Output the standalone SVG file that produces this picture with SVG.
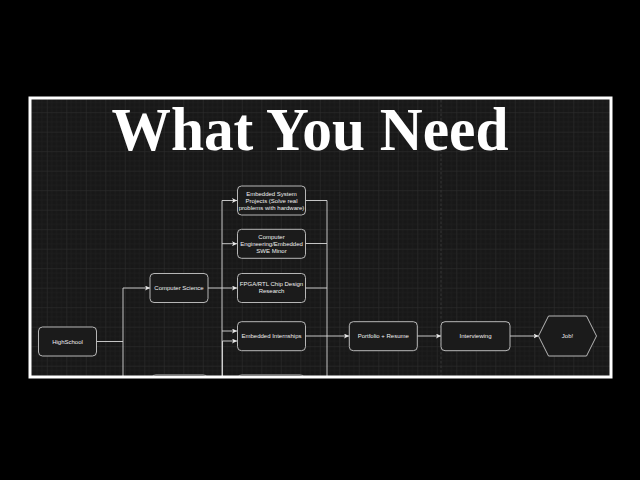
<svg xmlns="http://www.w3.org/2000/svg" width="640" height="480" viewBox="0 0 640 480">
<style>
.node rect,.node polygon{fill:#1b1b1b;stroke:#c8c8c8;stroke-width:0.9}
.node text{font-family:"Liberation Sans",Arial,sans-serif;font-size:6px;fill:#f0f0f0;text-anchor:middle}
.edge{fill:none;stroke:#d8d8d8;stroke-width:0.9}
.title{font-family:"Liberation Serif","Times New Roman",serif;font-weight:bold;font-size:62px;fill:#ffffff}
</style>
<defs>
<pattern id="grid" x="7.8" y="14.7" width="19.5" height="19.5" patternUnits="userSpaceOnUse">
<path d="M4.875 0V19.5M9.75 0V19.5M14.625 0V19.5M0 4.875H19.5M0 9.75H19.5M0 14.625H19.5" stroke="#212121" stroke-width="0.6" fill="none"/>
<path d="M0.3 0V19.5M0 0.3H19.5" stroke="#2c2c2c" stroke-width="0.8" fill="none"/>
</pattern>
<marker id="arr" viewBox="0 0 10 10" refX="10" refY="5" markerWidth="5" markerHeight="5" markerUnits="userSpaceOnUse" orient="auto">
<path d="M0 0L10 5L0 10L2.5 5Z" fill="#e8e8e8"/>
</marker>
<clipPath id="inner"><rect x="31.5" y="99.5" width="578" height="276.5"/></clipPath>
</defs>
<rect x="0" y="0" width="640" height="480" fill="#000000"/>
<rect x="30" y="98" width="581" height="279" fill="#181818"/>
<rect x="30" y="98" width="581" height="279" fill="url(#grid)"/>
<line x1="441" y1="100" x2="441" y2="376" stroke="#3c3c3c" stroke-width="0.8" stroke-dasharray="2.5,2"/>
<text class="title" x="111.5" y="149.5" textLength="397" lengthAdjust="spacingAndGlyphs">What You Need</text>
<g id="connectors" clip-path="url(#inner)">
<path class="edge" d="M96 341.5H123"/>
<path class="edge" d="M123 380V288H150" marker-end="url(#arr)"/>
<path class="edge" d="M208 288H237" marker-end="url(#arr)"/>
<path class="edge" d="M222 380V200.5H237" marker-end="url(#arr)"/>
<path class="edge" d="M222 243.7H237" marker-end="url(#arr)"/>
<path class="edge" d="M222 331H237" marker-end="url(#arr)"/>
<path class="edge" d="M222.5 380V341H237" marker-end="url(#arr)"/>
<path class="edge" d="M305 200.5H327V380"/>
<path class="edge" d="M305 243.5H327"/>
<path class="edge" d="M305 288H327"/>
<path class="edge" d="M305 336H349" marker-end="url(#arr)"/>
<path class="edge" d="M417 336H441" marker-end="url(#arr)"/>
<path class="edge" d="M510 336H538.5" marker-end="url(#arr)"/>
</g>
<g id="highschool" class="node"><rect x="38.5" y="327" width="58" height="29" rx="4"/><text x="67.5" y="343.5">HighSchool</text></g>
<g id="computer-science" class="node"><rect x="150" y="273.5" width="58" height="29" rx="4"/><text x="179" y="290">Computer Science</text></g>
<g id="embedded-projects" class="node"><rect x="237.5" y="186" width="68" height="29" rx="4"/><text x="271.5" y="195.5">Embedded System</text><text x="271.5" y="202.5">Projects (Solve real</text><text x="271.5" y="209.5">problems with hardware)</text></g>
<g id="ce-minor" class="node"><rect x="237.5" y="229.3" width="68" height="29" rx="4"/><text x="271.5" y="238.7">Computer</text><text x="271.5" y="245.7">Engineering/Embedded</text><text x="271.5" y="252.7">SWE Minor</text></g>
<g id="fpga" class="node"><rect x="237.5" y="273.5" width="68" height="29" rx="4"/><text x="271.5" y="286">FPGA/RTL Chip Design</text><text x="271.5" y="293">Research</text></g>
<g id="internships" class="node"><rect x="237.5" y="321.7" width="68" height="29" rx="4"/><text x="271.5" y="338">Embedded Internships</text></g>
<g id="portfolio" class="node"><rect x="349.3" y="321.7" width="68" height="29" rx="4"/><text x="383.3" y="338">Portfolio + Resume</text></g>
<g id="interviewing" class="node"><rect x="441" y="321.7" width="69" height="29" rx="4"/><text x="475.5" y="338">Interviewing</text></g>
<g id="job" class="node"><polygon points="538.5,336 548.5,316 586.5,316 596.5,336 586.5,356 548.5,356"/><text x="567.5" y="338">Job!</text></g>
<g id="partial-nodes" clip-path="url(#inner)">
<g id="lower-left" class="node"><rect x="152" y="374.5" width="55" height="29" rx="4" style="stroke:#777"/></g>
<g id="lower-right" class="node"><rect x="238" y="374.5" width="66" height="29" rx="4" style="stroke:#777"/></g>
</g>
<rect x="30" y="98" width="581" height="279" fill="none" stroke="#ffffff" stroke-width="3"/>
</svg>
